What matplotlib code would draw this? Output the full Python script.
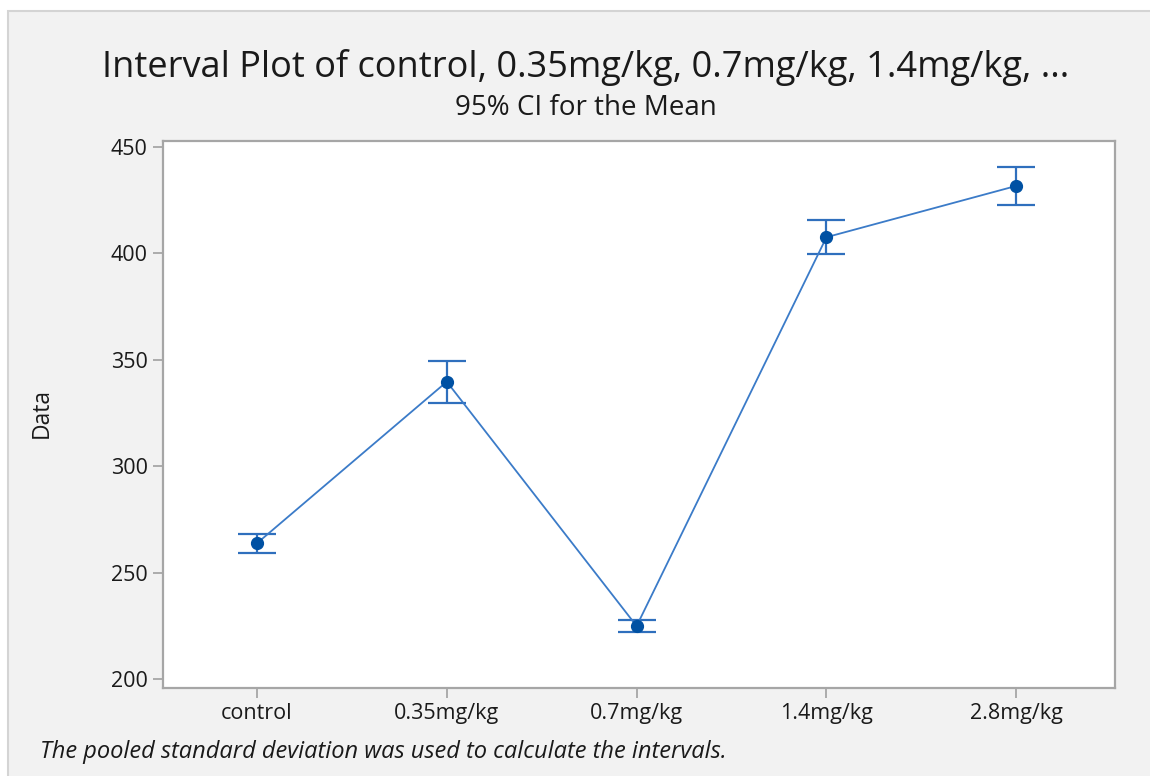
import matplotlib.pyplot as plt
from matplotlib.patches import Rectangle

# dose groups and their means with 95% CI bounds
groups = ['control', '0.35mg/kg', '0.7mg/kg', '1.4mg/kg', '2.8mg/kg']
means = [263.8, 339.7, 224.9, 407.6, 431.7]
ci_lower = [259.3, 329.8, 221.9, 399.7, 422.7]
ci_upper = [268.3, 349.4, 227.7, 415.7, 440.5]

plt.rcParams['font.family'] = ['Open Sans', 'DejaVu Sans']

fig = plt.figure(figsize=(11.5, 7.76), dpi=100, facecolor='white')

# grey panel behind everything
panel = Rectangle((8 / 1150, -0.5), 2.0, 1.5 - 11 / 776, transform=fig.transFigure,
                  facecolor='#f2f2f2', edgecolor='#d4d4d4', linewidth=1.5, zorder=-10)
fig.patches.append(panel)

ax = fig.add_axes([163 / 1150, 1 - 688 / 776, (1115 - 163) / 1150, (688 - 141) / 776])
ax.set_facecolor('white')

x = list(range(len(groups)))
yerr = [[m - lo for m, lo in zip(means, ci_lower)],
        [hi - m for m, hi in zip(means, ci_upper)]]

ax.errorbar(x, means, yerr=yerr, fmt='none', ecolor='#2f6fbd', elinewidth=1.6,
            capsize=13.5, capthick=1.6, zorder=2)
ax.plot(x, means, color='#3b7bc8', linewidth=1.3, zorder=3)
ax.plot(x, means, 'o', color='#0051a3', markersize=8.5, zorder=4)

ax.set_xlim(-0.495, 4.52)
ax.set_ylim(195.8, 452.8)
ax.set_xticks(x)
ax.set_xticklabels(groups)
ax.set_yticks([200, 250, 300, 350, 400, 450])

for s in ax.spines.values():
    s.set_color('#a6a6a6')
    s.set_linewidth(1.6)
ax.tick_params(direction='out', length=7, width=1.3, color='#a6a6a6',
               labelsize=15.5, labelcolor='#1a1a1a', pad=4)

fig.text(42 / 1150, 1 - 413 / 776, 'Data', rotation=90, ha='center', va='center',
         fontsize=16.5, color='#1a1a1a')

fig.text(586 / 1150, 1 - 68 / 776, 'Interval Plot of control, 0.35mg/kg, 0.7mg/kg, 1.4mg/kg, ...',
         ha='center', va='center', fontsize=26, color='#1a1a1a')
fig.text(586 / 1150, 1 - 108 / 776, '95% CI for the Mean', ha='center', va='center',
         fontsize=20, color='#1a1a1a')
fig.text(40 / 1150, 1 - 752 / 776, 'The pooled standard deviation was used to calculate the intervals.',
         ha='left', va='center', fontsize=17, style='italic', color='#1a1a1a')

fig.savefig('out.png', dpi=100, facecolor=fig.get_facecolor())
